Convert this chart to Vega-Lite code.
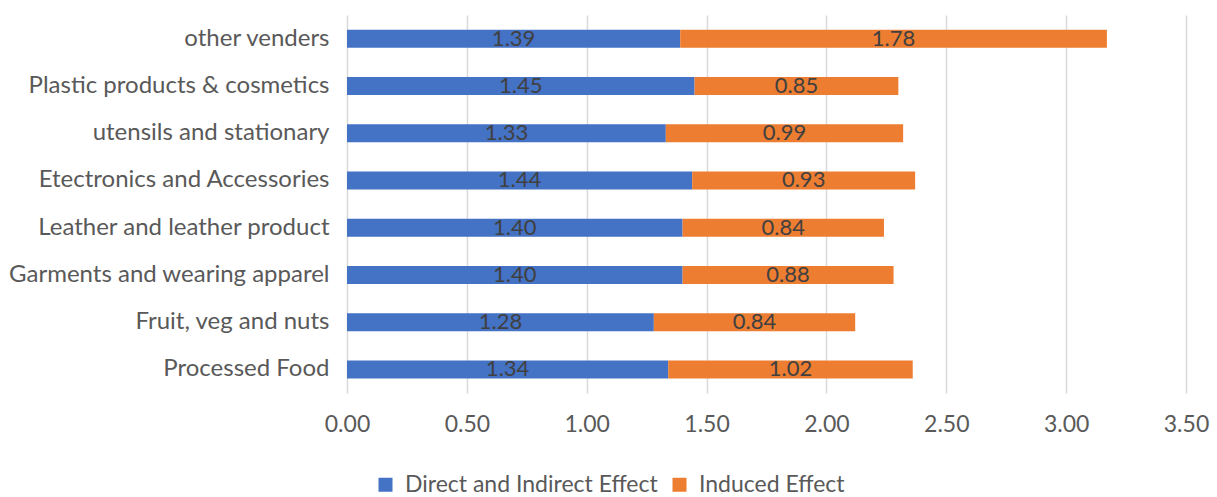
{
  "$schema": "https://vega.github.io/schema/vega-lite/v6.json",
  "width": 839,
  "height": 378,
  "autosize": {"type": "none"},
  "padding": {"left": 347, "top": 15, "right": 31, "bottom": 104},
  "background": "white",
  "config": {
    "view": {"stroke": null},
    "font": "Lato"
  },
  "data": {
    "values": [
      {"category": "other venders", "series": "Direct and Indirect Effect", "value": 1.39},
      {"category": "other venders", "series": "Induced Effect", "value": 1.78},
      {"category": "Plastic products & cosmetics", "series": "Direct and Indirect Effect", "value": 1.45},
      {"category": "Plastic products & cosmetics", "series": "Induced Effect", "value": 0.85},
      {"category": "utensils and stationary", "series": "Direct and Indirect Effect", "value": 1.33},
      {"category": "utensils and stationary", "series": "Induced Effect", "value": 0.99},
      {"category": "Etectronics and Accessories", "series": "Direct and Indirect Effect", "value": 1.44},
      {"category": "Etectronics and Accessories", "series": "Induced Effect", "value": 0.93},
      {"category": "Leather and leather product", "series": "Direct and Indirect Effect", "value": 1.40},
      {"category": "Leather and leather product", "series": "Induced Effect", "value": 0.84},
      {"category": "Garments and wearing apparel", "series": "Direct and Indirect Effect", "value": 1.40},
      {"category": "Garments and wearing apparel", "series": "Induced Effect", "value": 0.88},
      {"category": "Fruit, veg and nuts", "series": "Direct and Indirect Effect", "value": 1.28},
      {"category": "Fruit, veg and nuts", "series": "Induced Effect", "value": 0.84},
      {"category": "Processed Food", "series": "Direct and Indirect Effect", "value": 1.34},
      {"category": "Processed Food", "series": "Induced Effect", "value": 1.02}
    ]
  },
  "transform": [
    {"stack": "value", "groupby": ["category"], "sort": [{"field": "series", "order": "ascending"}], "as": ["x0", "x1"]},
    {"calculate": "(datum.x0 + datum.x1) / 2", "as": "mid"}
  ],
  "encoding": {
    "y": {
      "field": "category",
      "type": "nominal",
      "sort": null,
      "scale": {"paddingInner": 0.62, "paddingOuter": 0.31},
      "axis": {
        "title": null,
        "domain": false,
        "ticks": false,
        "grid": false,
        "labelPadding": 18,
        "labelFontSize": 24,
        "labelColor": "#595959",
        "labelFont": "Lato",
        "labelLimit": 0
      }
    }
  },
  "layer": [
    {
      "mark": {"type": "bar", "size": 18},
      "encoding": {
        "x": {
          "field": "x0",
          "type": "quantitative",
          "scale": {"domain": [0, 3.5], "nice": false},
          "axis": {
            "title": null,
            "values": [0, 0.5, 1, 1.5, 2, 2.5, 3, 3.5],
            "format": ".2f",
            "domain": false,
            "ticks": false,
            "grid": true,
            "gridColor": "#d9d9d9",
            "gridWidth": 1.5,
            "labelPadding": 20,
            "labelFontSize": 23,
            "labelColor": "#595959",
            "labelFont": "Lato",
            "labelFlush": false
          }
        },
        "x2": {"field": "x1"},
        "color": {
          "field": "series",
          "type": "nominal",
          "scale": {"domain": ["Direct and Indirect Effect", "Induced Effect"], "range": ["#4472C4", "#ED7D31"]},
          "legend": {
            "title": null,
            "orient": "none",
            "direction": "horizontal",
            "legendX": 27,
            "legendY": 458,
            "symbolType": "square",
            "symbolSize": 196,
            "symbolStrokeWidth": 0,
            "labelFontSize": 23,
            "labelColor": "#595959",
            "labelFont": "Lato",
            "labelLimit": 0,
            "columnPadding": 10,
            "labelOffset": 8
          }
        }
      }
    },
    {
      "mark": {"type": "text", "fontSize": 22, "color": "#404040", "font": "Lato", "align": "center", "baseline": "middle"},
      "encoding": {
        "x": {"field": "mid", "type": "quantitative"},
        "text": {"field": "value", "type": "quantitative", "format": ".2f"}
      }
    }
  ]
}
